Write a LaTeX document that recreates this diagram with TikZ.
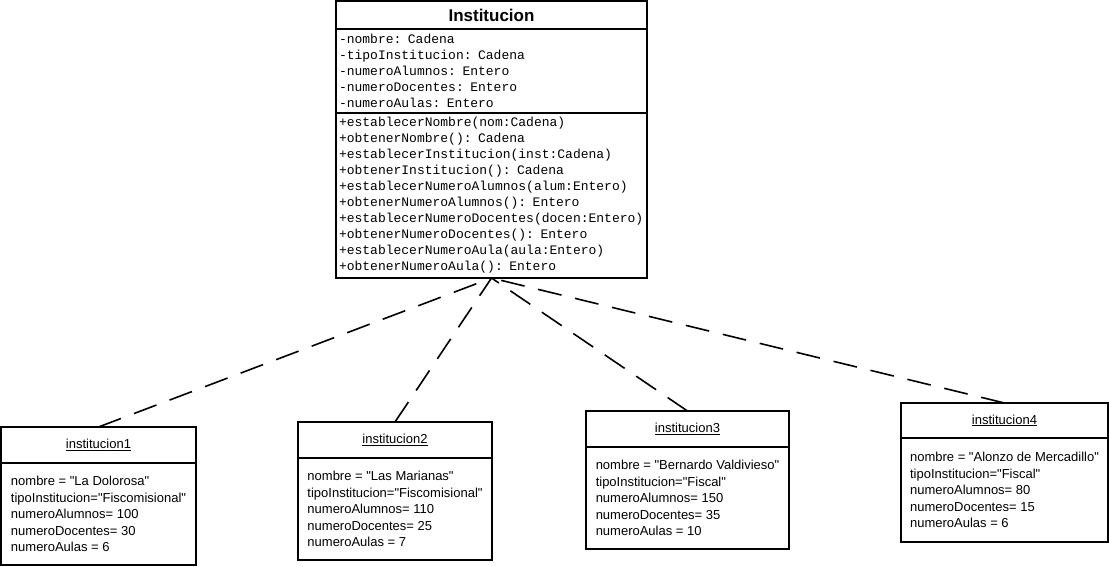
\documentclass[tikz,border=0pt]{standalone}
\usepackage{fontspec}
\setmainfont{Liberation Sans}
\setmonofont{Liberation Mono}
\usetikzlibrary{positioning}
\newcommand{\comillas}[1]{\textquotedbl#1\textquotedbl}
\tikzset{
  clase/.style={draw, line width=1.6pt, inner sep=0pt, outer sep=0pt, anchor=north west, minimum width=311pt},
  seccion/.style={draw, line width=1.6pt, outer sep=0pt, inner xsep=3pt, inner ysep=0pt, text width=305pt, align=left, font=\fontsize{13}{16}\selectfont\ttfamily},
  cabecera/.style={draw, line width=1.6pt, inner sep=0pt, outer sep=0pt, anchor=north west, font=\fontsize{13}{15}\selectfont},
  cuerpo/.style={draw, line width=1.6pt, outer sep=0pt, inner sep=0pt, align=left, font=\fontsize{13}{16.5}\selectfont},
  liga/.style={line width=1.6pt, dash pattern=on 24pt off 14pt}
}

\begin{document}
\begin{tikzpicture}[x=1pt, y=1pt]
    \useasboundingbox (0,0) rectangle (1109,-566);
    % clase
    \node[clase, minimum height=28pt, font=\fontsize{17}{20}\selectfont\bfseries] (titulo) at (336,-1) {Institucion};
    \node[seccion, minimum height=84pt, below=0pt of titulo] (atributos) {%
        -nombre: Cadena\\
        -tipoInstitucion: Cadena\\
        -numeroAlumnos: Entero\\
        -numeroDocentes: Entero\\
        -numeroAulas: Entero};
    \node[seccion, minimum height=165pt, below=0pt of atributos] (metodos) {%
        +establecerNombre(nom:Cadena)\\
        +obtenerNombre(): Cadena\\
        +establecerInstitucion(inst:Cadena)\\
        +obtenerInstitucion(): Cadena\\
        +establecerNumeroAlumnos(alum:Entero)\\
        +obtenerNumeroAlumnos(): Entero\\
        +establecerNumeroDocentes(docen:Entero)\\
        +obtenerNumeroDocentes(): Entero\\
        +establecerNumeroAula(aula:Entero)\\
        +obtenerNumeroAula(): Entero};
    % objetos
    \node[cabecera, minimum width=195pt, minimum height=36pt] (cab1) at (1,-427) {\underline{institucion1}};
    \node[cuerpo, minimum width=195pt, minimum height=102pt, below=0pt of cab1] (obj1) {%
        nombre = \comillas{La Dolorosa}\\
        tipoInstitucion=\comillas{Fiscomisional}\\
        numeroAlumnos= 100\\
        numeroDocentes= 30\\
        numeroAulas = 6};
    \node[cabecera, minimum width=194pt, minimum height=36pt] (cab2) at (298,-422) {\underline{institucion2}};
    \node[cuerpo, minimum width=194pt, minimum height=102pt, below=0pt of cab2] (obj2) {%
        nombre = \comillas{Las Marianas}\\
        tipoInstitucion=\comillas{Fiscomisional}\\
        numeroAlumnos= 110\\
        numeroDocentes= 25\\
        numeroAulas = 7};
    \node[cabecera, minimum width=203pt, minimum height=36pt] (cab3) at (586,-411) {\underline{institucion3}};
    \node[cuerpo, minimum width=203pt, minimum height=102pt, below=0pt of cab3] (obj3) {%
        nombre = \comillas{Bernardo Valdivieso}\\
        tipoInstitucion=\comillas{Fiscal}\\
        numeroAlumnos= 150\\
        numeroDocentes= 35\\
        numeroAulas = 10};
    \node[cabecera, minimum width=207pt, minimum height=35pt] (cab4) at (901,-403) {\underline{institucion4}};
    \node[cuerpo, minimum width=207pt, minimum height=104pt, below=0pt of cab4] (obj4) {%
        nombre = \comillas{Alonzo de Mercadillo}\\
        tipoInstitucion=\comillas{Fiscal}\\
        numeroAlumnos= 80\\
        numeroDocentes= 15\\
        numeroAulas = 6};
    % dependencias
    \draw[liga] (cab1.north) -- (metodos.south);
    \draw[liga] (cab2.north) -- (metodos.south);
    \draw[liga] (cab3.north) -- (metodos.south);
    \draw[liga] (cab4.north) -- (metodos.south);
\end{tikzpicture}
\end{document}
